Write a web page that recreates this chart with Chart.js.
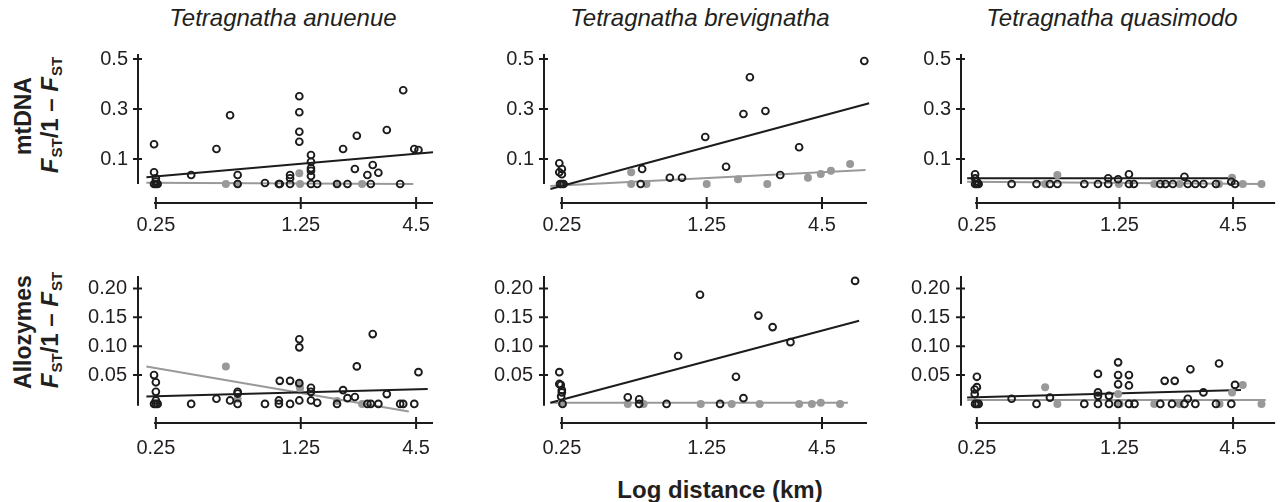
<!DOCTYPE html>
<html>
<head>
<meta charset="utf-8">
<script src="https://cdn.jsdelivr.net/npm/chart.js@4.4.1/dist/chart.umd.min.js"></script>
<style>
  body { margin:0; background:#fff; width:1281px; height:502px; overflow:hidden; position:relative;
         font-family:"Liberation Sans", Arial, sans-serif; color:#231f20; }
  canvas { position:absolute; }
  .title { position:absolute; top:18px; font-size:24px; font-style:italic; transform:translate(-50%,-50%); white-space:nowrap; }
  .ylab { position:absolute; font-size:23px; font-weight:bold; transform:translate(-50%,-50%) rotate(-90deg); white-space:nowrap; }
  .ylab.f { font-size:24px; }
  .ylab .s { font-size:15px; font-style:normal; position:relative; top:4px; margin-left:1px; }
  .xlab { position:absolute; left:720px; top:490px; font-size:24px; font-weight:bold; transform:translate(-50%,-50%); white-space:nowrap; }
</style>
</head>
<body>
<div class="title" style="left:283px">Tetragnatha anuenue</div>
<div class="title" style="left:700px">Tetragnatha brevignatha</div>
<div class="title" style="left:1112px">Tetragnatha quasimodo</div>

<div class="ylab" style="left:23px;top:116px">mtDNA</div>
<div class="ylab f" style="left:50px;top:115px"><i>F</i><span class="s">ST</span>/1 – <i>F</i><span class="s">ST</span></div>
<div class="ylab" style="left:23px;top:332px">Allozymes</div>
<div class="ylab f" style="left:50px;top:330px"><i>F</i><span class="s">ST</span>/1 – <i>F</i><span class="s">ST</span></div>
<div class="xlab">Log distance (km)</div>

<canvas id="c0" width="377" height="199" style="left:68px;top:44px"></canvas>
<canvas id="c1" width="405" height="199" style="left:474px;top:44px"></canvas>
<canvas id="c2" width="390" height="199" style="left:891px;top:44px"></canvas>
<canvas id="c3" width="377" height="197" style="left:68px;top:266px"></canvas>
<canvas id="c4" width="405" height="197" style="left:474px;top:266px"></canvas>
<canvas id="c5" width="390" height="197" style="left:891px;top:266px"></canvas>

<script>
// tick values
var distTicks = [0.25, 1.25, 4.5]
var distTickLabels = ['0.25', '1.25', '4.5']
var mtTicks = [0.1, 0.3, 0.5]
var mtTickLabels = ['0.1', '0.3', '0.5']
var alTicks = [0.05, 0.10, 0.15, 0.20]
var alTickLabels = ['0.05', '0.10', '0.15', '0.20']

// T. anuenue, mtDNA  [distance km, Fst/(1-Fst)]
var anuMtOpen = [[0.245,0.159],[0.245,0.047],[0.25,0.023],[0.25,0.01],[0.245,0],[0.25,0],[0.255,0],
  [0.37,0.036],[0.49,0.14],[0.57,0.275],[0.62,0.036],[0.62,0],[0.84,0.004],[0.98,0],[0.99,0],
  [1.11,0.036],[1.11,0.023],[1.11,0],[1.23,0.351],[1.23,0.287],[1.23,0.209],[1.23,0.169],
  [1.40,0.116],[1.40,0.089],[1.40,0.063],[1.40,0.053],[1.40,0.032],[1.40,0],[1.50,0],[1.87,0],
  [2.0,0.14],[2.10,0],[2.28,0.06],[2.33,0.193],[2.62,0.036],[2.72,0],[2.78,0.076],[2.96,0.045],
  [3.25,0.216],[3.77,0],[3.90,0.375],[4.41,0.14],[4.62,0.136]]
var anuMtFilled = [[0.544,0],[0.62,0],[1.23,0.043],[1.24,0],[1.87,0],[2.47,0]]
var anuMtFitOpen = [[0.225,0.027],[5.43,0.127]]
var anuMtFitFilled = [[0.225,0.005],[4.36,0]]

// T. brevignatha, mtDNA
var breMtOpen = [[0.243,0.083],[0.243,0.047],[0.25,0.06],[0.25,0.039],[0.245,0],[0.25,0],[0.255,0],
  [0.61,0.06],[0.60,0],[0.83,0.025],[0.95,0.025],[1.23,0.188],[1.55,0.069],[1.88,0.28],[2.02,0.427],
  [2.40,0.292],[2.83,0.036],[3.49,0.147],[7.2,0.492]]
var breMtFilled = [[0.25,0],[0.54,0.047],[0.54,0],[0.64,0],[1.25,0],[1.77,0.019],[2.45,0],[3.85,0.025],
  [4.44,0.04],[4.97,0.053],[6.15,0.08]]
var breMtFitOpen = [[0.22,-0.02],[7.6,0.323]]
var breMtFitFilled = [[0.22,-0.008],[7.3,0.056]]

// T. quasimodo, mtDNA
var quaMtOpen = [[0.245,0.039],[0.245,0.023],[0.25,0.01],[0.245,0],[0.25,0],[0.255,0],[0.37,0],[0.49,0],
  [0.57,0],[0.62,0],[0.84,0],[0.98,0],[1.10,0.023],[1.10,0],[1.23,0.019],[1.39,0.039],[1.39,0],[1.47,0],
  [1.98,0],[2.10,0],[2.28,0],[2.60,0.029],[2.70,0],[2.94,0],[3.22,0],[3.71,0],[4.41,0.009],[4.60,0]]
var quaMtFilled = [[0.54,0],[0.62,0.036],[1.24,0],[1.85,0],[2.46,0],[3.84,0],[4.45,0.025],[5.02,0],[6.2,0]]
var quaMtFitOpen = [[0.224,0.023],[4.3,0.023]]
var quaMtFitFilled = [[0.224,0.009],[6.2,0]]

// T. anuenue, allozymes
var anuAlOpen = [[0.245,0.05],[0.25,0.0375],[0.25,0.021],[0.25,0.006],[0.245,0],[0.25,0],[0.255,0],
  [0.37,0],[0.49,0.009],[0.57,0.006],[0.62,0.021],[0.62,0.018],[0.62,0],[0.84,0],[0.98,0.006],[0.98,0],
  [0.99,0.04],[1.11,0.04],[1.11,0],[1.23,0.112],[1.23,0.098],[1.23,0.036],[1.23,0.006],[1.40,0.028],
  [1.40,0.021],[1.40,0.006],[1.50,0.002],[1.87,0],[2.0,0.024],[2.10,0.01],[2.28,0.012],[2.33,0.065],
  [2.62,0],[2.72,0],[2.78,0.121],[2.96,0],[3.25,0.017],[3.77,0],[3.9,0],[4.41,0],[4.62,0.055]]
var anuAlFilled = [[0.544,0.065],[0.62,0.009],[1.23,0.033],[1.24,0.027],[1.87,0.005],[2.47,0]]
var anuAlFitOpen = [[0.225,0.0127],[5.12,0.026]]
var anuAlFitFilled = [[0.225,0.065],[4.15,-0.013]]

// T. brevignatha, allozymes
var breAlOpen = [[0.243,0.055],[0.243,0.0346],[0.247,0.033],[0.25,0.024],[0.25,0.02],[0.248,0.013],[0.252,0],
  [0.52,0.0115],[0.59,0.008],[0.59,0],[0.80,0],[0.91,0.083],[1.16,0.189],[1.45,0],[1.73,0.047],[1.88,0.01],
  [2.22,0.153],[2.60,0.133],[3.17,0.107],[6.5,0.213]]
var breAlFilled = [[0.25,0.002],[0.52,0],[0.62,0],[1.17,0],[1.65,0],[2.25,0],[3.49,0],[4.02,0],[4.44,0.002],[5.5,0]]
var breAlFitOpen = [[0.22,0.002],[6.8,0.144]]
var breAlFitFilled = [[0.22,0.002],[6.0,0.002]]

// T. quasimodo, allozymes
var quaAlOpen = [[0.25,0.047],[0.25,0.029],[0.244,0.025],[0.244,0.017],[0.245,0],[0.25,0],[0.255,0],
  [0.37,0.009],[0.49,0],[0.57,0.011],[0.84,0],[0.98,0.052],[0.98,0.02],[0.98,0.014],[0.98,0],[1.11,0.014],
  [1.11,0],[1.23,0.072],[1.23,0.05],[1.23,0.034],[1.23,0],[1.39,0.05],[1.39,0.032],[1.39,0],[1.48,0],
  [1.98,0],[2.08,0.04],[2.26,0],[2.33,0.04],[2.6,0],[2.7,0.009],[2.78,0.06],[2.94,0],[3.22,0.02],[3.71,0],
  [3.84,0.07],[4.41,0],[4.6,0.033]]
var quaAlFilled = [[0.54,0.029],[0.62,0],[1.23,0.017],[1.25,0],[1.85,0],[2.46,0],[3.86,0],[4.45,0.02],[5.02,0.033],[6.2,0]]
var quaAlFitOpen = [[0.224,0.011],[4.92,0.024]]
var quaAlFitFilled = [[0.224,0.007],[6.5,0.007]]

var BLACK = '#1c1c1c', GREY = '#999999', TEXT = '#231f20'
var FONT = '"Liberation Sans", Arial, sans-serif'

// column / row setup (axis ranges)
var cols = [
  {xMin:0.205, xMax:5.43, padR:12},
  {xMin:0.205, xMax:7.42, padR:12},
  {xMin:0.209, xMax:7.23, padR:1}
]
var rows = [
  {yMin:-0.076, yMax:0.52, axisTop:0.52, axisBottom:0, ticks:mtTicks, labels:mtTickLabels, xPad:10, yPad:10},
  {yMin:-0.033, yMax:0.2215, axisTop:0.2215, axisBottom:-0.003, ticks:alTicks, labels:alTickLabels, xPad:13, yPad:11}
]

// detached axes with cross ticks
var axesPlugin = {
  id: 'axes',
  afterDraw: function(chart, args, opts){
    var ctx = chart.ctx, area = chart.chartArea
    var x = chart.scales.x, y = chart.scales.y
    ctx.save()
    ctx.strokeStyle = BLACK
    ctx.lineWidth = 2
    ctx.beginPath()
    ctx.moveTo(area.left, y.getPixelForValue(opts.axisTop))
    ctx.lineTo(area.left, y.getPixelForValue(opts.axisBottom))
    y.ticks.forEach(function(t){
      var py = y.getPixelForValue(t.value)
      ctx.moveTo(area.left - 5, py); ctx.lineTo(area.left + 4, py)
    })
    ctx.moveTo(x.getPixelForValue(0.245), area.bottom)
    ctx.lineTo(area.right, area.bottom)
    x.ticks.forEach(function(t){
      var px = x.getPixelForValue(t.value)
      ctx.moveTo(px, area.bottom - 6); ctx.lineTo(px, area.bottom + 6)
    })
    ctx.stroke()
    ctx.restore()
  }
}

function pts(arr){ return arr.map(function(p){ return {x:p[0], y:p[1]} }) }

function makePanel(id, col, row, open, filled, fitOpen, fitFilled){
  var c = cols[col], r = rows[row]
  new Chart(document.getElementById(id), {
    type: 'scatter',
    data: {
      datasets: [
        {data: pts(open), pointRadius:3.4, borderWidth:1.9, pointBorderColor:BLACK,
         pointBackgroundColor:'rgba(0,0,0,0)', clip:false},
        {data: pts(filled), pointRadius:4, borderWidth:0, pointBorderColor:GREY,
         pointBackgroundColor:GREY, clip:false},
        {data: pts(fitOpen), showLine:true, pointRadius:0, borderColor:BLACK, borderWidth:2, clip:false},
        {data: pts(fitFilled), showLine:true, pointRadius:0, borderColor:GREY, borderWidth:2, clip:false}
      ]
    },
    options: {
      responsive: false,
      animation: false,
      events: [],
      layout: {padding: {top:10, right:c.padR, left:0, bottom:0}},
      plugins: {
        legend: {display:false},
        tooltip: {enabled:false},
        axes: {axisTop:r.axisTop, axisBottom:r.axisBottom}
      },
      scales: {
        x: {
          type: 'logarithmic', min: c.xMin, max: c.xMax,
          grid: {display:false, drawTicks:false},
          border: {display:false},
          afterBuildTicks: function(s){ s.ticks = distTicks.map(function(v){ return {value:v} }) },
          afterFit: function(s){ s.height = 40; s.paddingLeft = 0; s.paddingRight = 0 },
          ticks: {
            autoSkip:false, maxRotation:0, padding:r.xPad, color:TEXT,
            font:{family:FONT, size:20},
            callback: function(v, i){ return distTickLabels[i] }
          }
        },
        y: {
          min: r.yMin, max: r.yMax,
          grid: {display:false, drawTicks:false},
          border: {display:false},
          afterBuildTicks: function(s){ s.ticks = r.ticks.map(function(v){ return {value:v} }) },
          afterFit: function(s){ s.width = 70; s.paddingTop = 0; s.paddingBottom = 0 },
          ticks: {
            autoSkip:false, padding:r.yPad, color:TEXT,
            font:{family:FONT, size:20},
            callback: function(v, i){ return r.labels[i] }
          }
        }
      }
    },
    plugins: [axesPlugin]
  })
}

makePanel('c0', 0, 0, anuMtOpen, anuMtFilled, anuMtFitOpen, anuMtFitFilled)
makePanel('c1', 1, 0, breMtOpen, breMtFilled, breMtFitOpen, breMtFitFilled)
makePanel('c2', 2, 0, quaMtOpen, quaMtFilled, quaMtFitOpen, quaMtFitFilled)
makePanel('c3', 0, 1, anuAlOpen, anuAlFilled, anuAlFitOpen, anuAlFitFilled)
makePanel('c4', 1, 1, breAlOpen, breAlFilled, breAlFitOpen, breAlFitFilled)
makePanel('c5', 2, 1, quaAlOpen, quaAlFilled, quaAlFitOpen, quaAlFitFilled)
</script>
</body>
</html>
